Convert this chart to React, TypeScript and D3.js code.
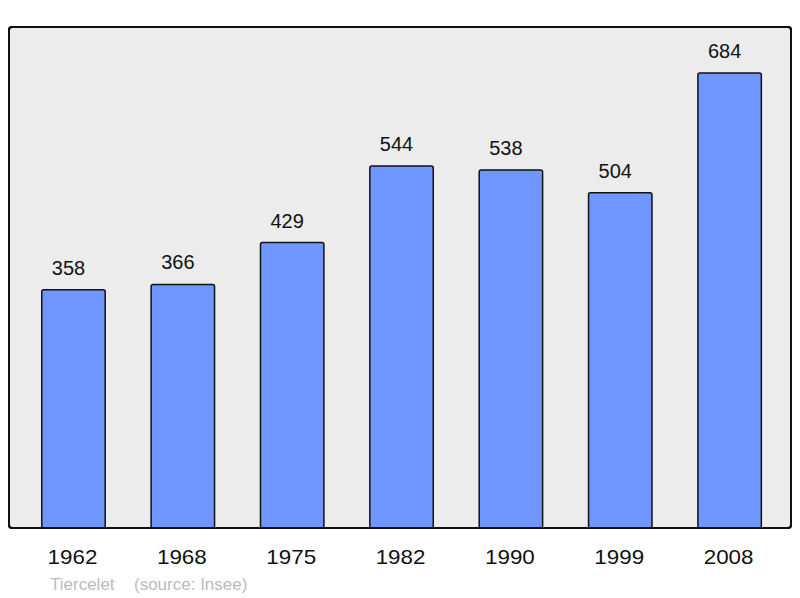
import React from "react";
import * as d3 from "d3";

const years = ["1962", "1968", "1975", "1982", "1990", "1999", "2008"];
const population = [358, 366, 429, 544, 538, 504, 684];
const townName = "Tiercelet";
const sourceLabel = "(source: Insee)";

export default function App() {
  const W = 800, H = 598;
  const frame = { x: 9, y: 27, w: 782, h: 501 };
  const x = d3.scaleBand<string>().domain(years).range([18.8, 784.3]).paddingInner(0.42).paddingOuter(0.21);
  const y = d3.scaleLinear().domain([0, 753]).range([528, 27]);
  const font = "'Liberation Sans', Arial, sans-serif";
  return (
    <svg width={W} height={H} style={{ position: "absolute", left: 0, top: 0 }} fontFamily={font}>
      <rect x={frame.x} y={frame.y} width={frame.w} height={frame.h} rx={3} fill="#ececec" stroke="#111" strokeWidth={2} />
      {years.map((yr, i) => {
        const v = population[i];
        const bx = x(yr)!;
        const bw = x.bandwidth();
        const cx = bx + bw / 2;
        return (
          <g key={yr}>
            <rect x={bx} y={y(v)} width={bw} height={y(0) - y(v)} rx={2} fill="#7097ff" stroke="#111" strokeWidth={1.5} />
            <text x={cx - 5} y={y(v) - 15} textAnchor="middle" fontSize={20} fill="#111">{v}</text>
            <g transform={`translate(${cx - 1},564.3) scale(1.12,1)`}>
              <text x={0} y={0} textAnchor="middle" fontSize={20} fill="#111">{yr}</text>
            </g>
          </g>
        );
      })}
      <rect x={frame.x} y={frame.y} width={frame.w} height={frame.h} rx={3} fill="none" stroke="#111" strokeWidth={2} />
      <text x={50} y={590} fontSize={17} fill="#bbb">{townName}</text>
      <text x={134} y={590} fontSize={17} fill="#bbb">{sourceLabel}</text>
    </svg>
  );
}
